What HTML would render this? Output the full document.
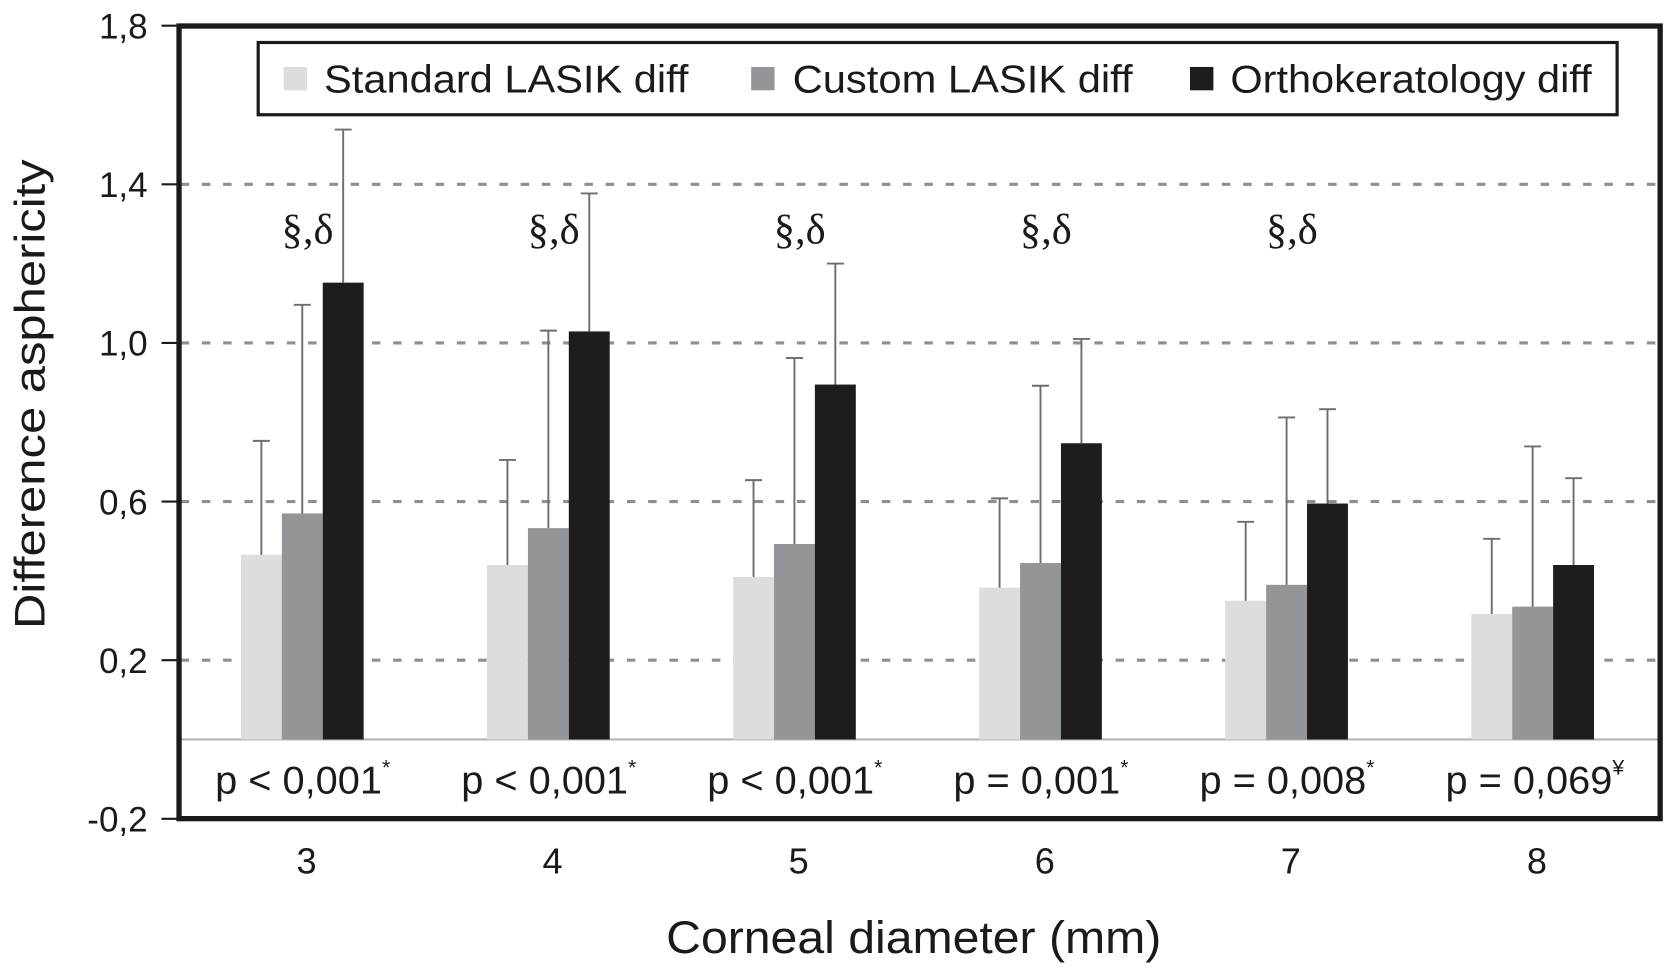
<!DOCTYPE html>
<html><head><meta charset="utf-8"><style>
body{margin:0;background:#fff}
svg{display:block}
text{font-family:"Liberation Sans",sans-serif;fill:#1a1a1a}
</style></head><body>
<svg id="chart" width="1666" height="975" viewBox="0 0 1568 917.65" xmlns="http://www.w3.org/2000/svg">
<g id="grid"></g>
<g id="bars"></g>
<g id="axes"></g>
<rect x="168.5" y="24.5" width="1394" height="746" fill="none" stroke="#1a1a1a" stroke-width="5"/>
<g>
<rect x="243" y="40" width="1279" height="68" fill="#fff" stroke="#1a1a1a" stroke-width="3"/>
<rect x="267" y="63" width="22" height="22" fill="#dcdddf"/>
<text x="305" y="87" font-size="37" textLength="343" lengthAdjust="spacingAndGlyphs">Standard LASIK diff</text>
<rect x="707" y="63" width="22" height="22" fill="#939598"/>
<text x="746" y="87" font-size="37" textLength="320" lengthAdjust="spacingAndGlyphs">Custom LASIK diff</text>
<rect x="1120" y="63" width="22" height="22" fill="#1e1c1d"/>
<text x="1158" y="87" font-size="37" textLength="340" lengthAdjust="spacingAndGlyphs">Orthokeratology diff</text>
</g>
<text transform="translate(42,371) rotate(-90)" text-anchor="middle" font-size="40" textLength="442" lengthAdjust="spacingAndGlyphs">Difference asphericity</text>
<text x="860" y="897" text-anchor="middle" font-size="43" textLength="466" lengthAdjust="spacingAndGlyphs">Corneal diameter (mm)</text>
</svg>
<script>
const categories=["3","4","5","6","7","8"];
const standardVals=[0.466,0.44,0.41,0.383,0.35,0.316];
const customVals=[0.57,0.533,0.493,0.445,0.39,0.335];
const orthoVals=[1.152,1.029,0.895,0.747,0.595,0.44];
const standardErrTop=[0.753,0.705,0.654,0.608,0.549,0.506];
const customErrTop=[1.096,1.031,0.962,0.892,0.812,0.739];
const orthoErrTop=[1.538,1.377,1.2,1.01,0.833,0.659];
const yTicks=[1.8,1.4,1.0,0.6,0.2,-0.2];
const yTickLabels=["1,8","1,4","1,0","0,6","0,2","-0,2"];
const gridVals=[1.4,1.0,0.6,0.2];
const annotations=["§,δ","§,δ","§,δ","§,δ","§,δ",""];
const pLabels=["p < 0,001","p < 0,001","p < 0,001","p = 0,001","p = 0,008","p = 0,069"];
const pMarks=["*","*","*","*","*","¥"];

const NS="http://www.w3.org/2000/svg";
function y(v){return 696-v*373.25;}
function gx(i){return 284.5+i*231.6;}
function mk(t,a,p){const e=document.createElementNS(NS,t);for(const k in a)e.setAttribute(k,a[k]);p.appendChild(e);return e;}
const grid=document.getElementById('grid'),bars=document.getElementById('bars'),axes=document.getElementById('axes');
gridVals.forEach(v=>{
 const l=mk('line',{x1:170,x2:1562,y1:y(v),y2:y(v),stroke:'#8f8f8f','stroke-width':3,'stroke-dasharray':'8 12'},grid);
 
 
});
const base=mk('line',{x1:170,x2:1562,y1:y(0),y2:y(0),stroke:'#b5b5b5','stroke-width':2},grid);


yTicks.forEach((v,i)=>{
 const t=mk('line',{x1:152,x2:168,y1:y(v),y2:y(v),stroke:'#1a1a1a','stroke-width':2},axes);
 
 
 const tx=mk('text',{x:139,y:y(v)+12,'text-anchor':'end','font-size':33},axes);
 tx.textContent=yTickLabels[i];
 
 
});
const series=[[standardVals,standardErrTop,'#dcdddf','standard'],[customVals,customErrTop,'#939598','custom'],[orthoVals,orthoErrTop,'#1e1c1d','ortho']];
const bw=38.5;
categories.forEach((c,i)=>{
 const cx=gx(i);
 series.forEach((s,j)=>{
  const x0=cx-bw*1.5+j*bw, v=s[0][i], e=s[1][i];
  const r=mk('rect',{x:x0,y:y(v),width:bw,height:y(0)-y(v),fill:s[2]},bars);
  
  
  const mx=x0+bw/2;
  const el=mk('path',{d:`M${mx},${y(v)}V${y(e)}M${mx-8},${y(e)}H${mx+8}`,stroke:'#6d6d6d','stroke-width':1.8,fill:'none'},bars);
  
  
 });
 const xl=mk('text',{x:cx+4,y:822,'text-anchor':'middle','font-size':34},axes);
 xl.textContent=c;
 
 
 if(annotations[i]){
  const a=mk('text',{x:cx+5,y:229,'text-anchor':'middle','font-size':40,style:'font-family:"Liberation Serif",serif'},axes);
  a.textContent=annotations[i];
  
  
 }
 const p=mk('text',{x:cx-82,y:747,'font-size':37},axes);
 const pt=mk('tspan',{textLength:157,lengthAdjust:'spacingAndGlyphs'},p);
 pt.textContent=pLabels[i];
 
 
 const ps=mk('tspan',{dy:-18,'font-size':20},p);
 ps.textContent=pMarks[i];
});
</script>
</body></html>
